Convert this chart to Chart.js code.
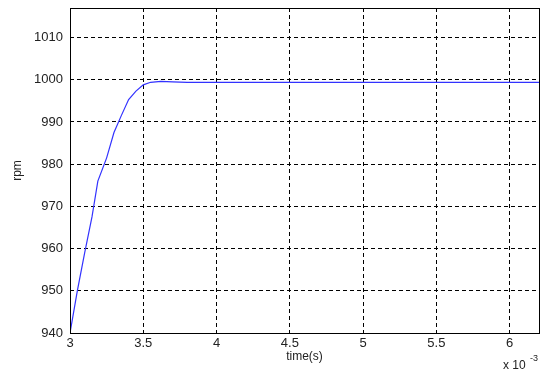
<!DOCTYPE html>
<html>
<head>
<meta charset="utf-8">
<script src="https://cdn.jsdelivr.net/npm/chart.js@4"></script>
<style>
  html, body { margin: 0; padding: 0; background: #fff; }
  #wrap { width: 543px; height: 373px; }
</style>
</head>
<body>
<div id="wrap"><canvas id="myChart"></canvas></div>
<script>
// time in units of 1e-3 s
var timeVals = [3.0, 3.05, 3.1, 3.15, 3.19, 3.25, 3.3, 3.35, 3.4, 3.45, 3.5, 3.55, 3.62, 3.7, 3.8, 4.5, 5.5, 6.2]
var rpmVals  = [940, 950, 959, 967.5, 976, 981.5, 987.5, 991.5, 995.3, 997.3, 998.8, 999.4, 999.6, 999.5, 999.4, 999.4, 999.4, 999.4]
var yTicks = [940, 950, 960, 970, 980, 990, 1000, 1010]
var xTicks = [3, 3.5, 4, 4.5, 5, 5.5, 6]

var points = []
for (let i = 0; i < timeVals.length; i++) {
    points.push({x: timeVals[i], y: rpmVals[i]})
}

var fontFam = "'Liberation Sans', Arial, sans-serif"

// black box round the plot plus the "x 10^-3" note
var boxPlugin = {
    id: 'box',
    afterDraw: function(chart) {
        var ctx = chart.ctx
        var a = chart.chartArea
        ctx.save()
        ctx.strokeStyle = '#000'
        ctx.lineWidth = 1
        ctx.strokeRect(Math.round(a.left) + 0.5, Math.round(a.top) + 0.5,
            Math.round(a.right - a.left), Math.round(a.bottom - a.top))
        ctx.fillStyle = '#222'
        ctx.font = '12px ' + fontFam
        ctx.textBaseline = 'alphabetic'
        ctx.fillText('x 10', 503, 369)
        ctx.font = '9px ' + fontFam
        ctx.fillText('-3', 530, 361)
        ctx.restore()
    }
}

function updateChart() {
    var ctx = document.getElementById('myChart').getContext('2d')
    var chart = new Chart(ctx, {
        type: 'line',
        data: {
            datasets: [{
                label: 'rpm',
                data: points,
                borderColor: 'rgb(50, 50, 255)',
                borderWidth: 1.2,
                pointRadius: 0,
                tension: 0,
                fill: false
            }]
        },
        options: {
            responsive: true,
            maintainAspectRatio: false,
            animation: false,
            layout: { padding: { top: 8, right: 4, left: 0, bottom: 0 } },
            plugins: {
                legend: { display: false },
                tooltip: { enabled: false }
            },
            scales: {
                x: {
                    type: 'linear',
                    min: 3,
                    max: 6.2,
                    afterBuildTicks: function(scale) {
                        scale.ticks = xTicks.map(v => ({value: v}))
                    },
                    afterFit: function(scale) {
                        scale.height = 40
                        scale.paddingLeft = 0
                        scale.paddingRight = 0
                    },
                    ticks: {
                        color: '#222',
                        font: { family: fontFam, size: 13 },
                        padding: 3,
                        maxRotation: 0,
                        callback: v => String(v)
                    },
                    grid: { color: '#000', lineWidth: 1, drawTicks: false },
                    border: { display: false, dash: [4, 3] },
                    title: {
                        display: true,
                        text: 'time(s)',
                        color: '#222',
                        font: { family: fontFam, size: 12 },
                        padding: { top: 0, bottom: 9 }
                    }
                },
                y: {
                    min: 940,
                    max: 1017,
                    afterBuildTicks: function(scale) {
                        scale.ticks = yTicks.map(v => ({value: v}))
                    },
                    afterFit: function(scale) {
                        scale.width = 70
                        scale.paddingTop = 0
                        scale.paddingBottom = 0
                    },
                    ticks: {
                        color: '#222',
                        font: { family: fontFam, size: 13 },
                        padding: 7,
                        callback: v => String(v)
                    },
                    grid: { color: '#000', lineWidth: 1, drawTicks: false },
                    border: { display: false, dash: [4, 3] },
                    title: {
                        display: true,
                        text: 'rpm',
                        color: '#222',
                        font: { family: fontFam, size: 12 },
                        padding: { top: 10, bottom: 0 }
                    }
                }
            }
        },
        plugins: [boxPlugin]
    })
}

updateChart()
</script>
</body>
</html>
